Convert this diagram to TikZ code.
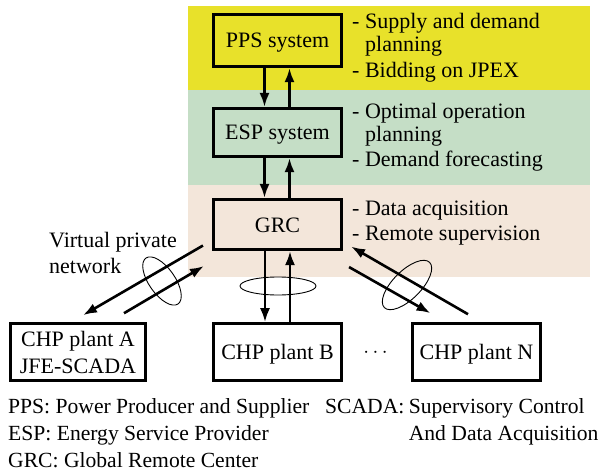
\documentclass[tikz,border=0pt]{standalone}
\usepackage{fontspec}
\setmainfont{Liberation Serif}
\usetikzlibrary{arrows.meta,calc}
\definecolor{ylw}{RGB}{232,225,42}
\definecolor{grn}{RGB}{197,222,198}
\definecolor{bge}{RGB}{243,230,218}
\begin{document}
\begin{tikzpicture}[x=1pt,y=1pt,
  font=\fontsize{22}{27}\selectfont,
  box/.style={draw, line width=2.6pt, inner sep=0pt, align=center, text height=15pt, text depth=0pt},
  arr/.style={line width=2.6pt, -{Latex[length=14pt,width=10pt]}},
  ring/.style={line width=0.9pt},
  txt/.style={anchor=base west, inner sep=0pt},
  foot/.style={txt, font=\fontsize{21.6}{27}\selectfont}]
\useasboundingbox (0,0) rectangle (604,-473);
% background bands
\fill[ylw] (188,-6) rectangle (590,-90);
\fill[grn] (188,-90) rectangle (590,-185);
\fill[bge] (188,-185) rectangle (590,-277);
% boxes
\node[box, minimum width=128.5pt, minimum height=52.5pt] (pps) at (277.5,-40.5) {PPS system};
\node[box, minimum width=128.5pt, minimum height=48.5pt] (esp) at (277.5,-132.5) {ESP system};
\node[box, minimum width=128.5pt, minimum height=50.5pt] (grc) at (277.5,-224.5) {GRC};
\node[box, fill=white, minimum width=135pt, minimum height=57pt, text height=42pt, text depth=0pt] (a) at (78,-352) {CHP plant A\\JFE-SCADA};
\node[box, fill=white, minimum width=128.5pt, minimum height=57pt] (b) at (277.5,-352) {CHP plant B};
\node[box, fill=white, minimum width=128.5pt, minimum height=57pt] (n) at (476.5,-352) {CHP plant N};
\node[inner sep=0pt] (dots) at (375.5,-353) {$\cdots$};
% vertical arrows
\draw[arr] ([xshift=-13pt]pps.south) -- ([xshift=-13pt]esp.north);
\draw[arr] ([xshift=12pt]esp.north) -- ([xshift=12pt]pps.south);
\draw[arr] ([xshift=-13pt]esp.south) -- ([xshift=-13pt]grc.north);
\draw[arr] ([xshift=12pt]grc.north) -- ([xshift=12pt]esp.south);
\draw[arr] ([xshift=-12.5pt]grc.south) -- ([xshift=-12.5pt]b.north);
\draw[arr] ([xshift=12.5pt]b.north) -- ([xshift=12.5pt]grc.south);
% diagonal arrows
\draw[arr] ($(grc.south west)+(-9,5.5)$) -- ($(a.north)+(5,7)$);
\draw[arr] ($(a.north)+(46,9)$) -- ($(grc.south west)+(-8,-15)$);
\draw[arr] ($(grc.south east)+(6,-16)$) -- ($(n.north)+(-46,9)$);
\draw[arr] ($(n.north)+(-8.5,8)$) -- ($(grc.south east)+(8,4.5)$);
% rings
\draw[ring] (162,-281) ellipse [x radius=28, y radius=13, rotate=-55];
\draw[ring] (407,-285) ellipse [x radius=32, y radius=14, rotate=45];
\draw[ring] (278,-286) ellipse [x radius=38, y radius=9];
% side lists
\node[txt] (p1) at (352,-29) {- Supply and demand};
\node[txt] (p2) at (365,-52) {planning};
\node[txt] (p3) at (352,-78) {- Bidding on JPEX};
\node[txt] (e1) at (352,-119) {- Optimal operation};
\node[txt] (e2) at (365,-142) {planning};
\node[txt] (e3) at (352,-167) {- Demand forecasting};
\node[txt] (g1) at (352,-215) {- Data acquisition};
\node[txt] (g2) at (352,-240) {- Remote supervision};
% VPN label
\node[txt] (v1) at (49,-247) {Virtual private};
\node[txt] (v2) at (49,-273) {network};
% footer
\node[foot] (f1) at (8,-413) {PPS: Power Producer and Supplier};
\node[foot] (f2) at (8,-440) {ESP: Energy Service Provider};
\node[foot] (f3) at (8,-467) {GRC: Global Remote Center};
\node[foot] (s1) at (325,-413) {SCADA:};
\node[foot] (s2) at ([xshift=4pt]s1.base east) {Supervisory Control};
\node[foot] (s3) at ($(s2.base west)+(0,-27)$) {And Data Acquisition};
\end{tikzpicture}
\end{document}
